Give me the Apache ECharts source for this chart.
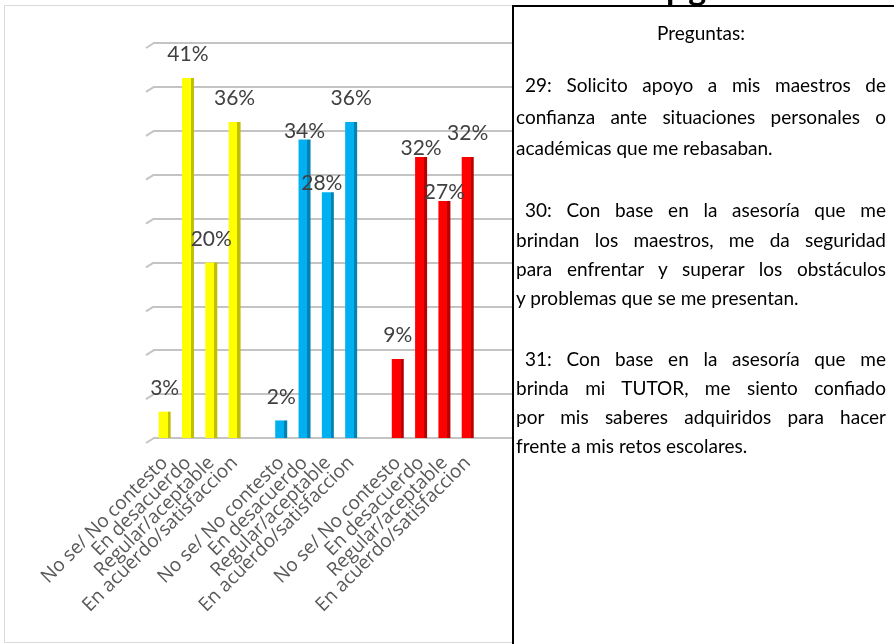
<!DOCTYPE html>
<html>
<head>
<meta charset="utf-8">
<script src="https://cdn.jsdelivr.net/npm/echarts@6/dist/echarts.min.js"></script>
<style>
body{margin:0;background:#fff;}
#wrap{position:relative;width:894px;height:644px;overflow:hidden;}
#chart{position:absolute;left:0;top:0;width:894px;height:644px;}
#ttl{position:absolute;left:666px;top:-30px;font-family:Lato;font-weight:bold;font-size:34px;line-height:34px;letter-spacing:3px;color:#000;}
#box{position:absolute;left:512px;top:5px;width:400px;height:660px;border-left:2px solid #000;border-top:2px solid #000;background:#fff;font-family:Lato;font-size:19px;color:#000;}
.ln{position:absolute;left:2px;width:370px;height:30px;line-height:30px;text-align:justify;text-align-last:justify;}
.ln.first{text-indent:9px;}
.ln.end{text-align-last:left;}
.ln.ctr{text-align:center;text-align-last:center;}
</style>
</head>
<body>
<div id="wrap">
  <div id="chart"></div>
  <div id="ttl">pg</div>
  <div id="box">
    <div class="ln ctr" style="top:11px">Preguntas:</div>
    <div class="ln first" style="top:63px">29: Solicito apoyo a mis maestros de</div>
    <div class="ln" style="top:95px">confianza ante situaciones personales o</div>
    <div class="ln end" style="top:126px">académicas que me rebasaban.</div>
    <div class="ln first" style="top:188px">30: Con base en la asesoría que me</div>
    <div class="ln" style="top:218px">brindan los maestros, me da seguridad</div>
    <div class="ln" style="top:247px">para enfrentar y superar los obstáculos</div>
    <div class="ln end" style="top:276px">y problemas que se me presentan.</div>
    <div class="ln first" style="top:337px">31: Con base en la asesoría que me</div>
    <div class="ln" style="top:366px">brinda mi TUTOR, me siento confiado</div>
    <div class="ln" style="top:395px">por mis saberes adquiridos para hacer</div>
    <div class="ln end" style="top:424px">frente a mis retos escolares.</div>
  </div>
</div>
<script>
var categories = ['No se/ No contesto', 'En desacuerdo', 'Regular/aceptable', 'En acuerdo/satisfaccion'];
var q29 = [3, 41, 20, 36];
var q30 = [2, 34, 28, 36];
var q31 = [9, 32, 27, 32];
var yTicks = [0, 5, 10, 15, 20, 25, 30, 35, 40, 45];

// labels that Excel put right on top of the bar
var closeLabels = [[], [1, 2], [1, 2]];

var groups = [q29, q30, q31];
var colors = [['#FFFF00', '#BFBF00'], ['#00B0F0', '#0083B3'], ['#FF0000', '#B80000']];

// slots: 4 + hueco + 4 + hueco + 4 + 2 vacios (debajo del cuadro)
var slots = [];
for (var g = 0; g < 3; g++) {
    for (var i = 0; i < categories.length; i++) slots.push(categories[i]);
    slots.push('');
}
slots.push('');

function barColor(c) {
    return new echarts.graphic.LinearGradient(0, 0, 1, 0, [
        {offset: 0, color: c[0]}, {offset: 0.74, color: c[0]},
        {offset: 0.74, color: c[1]}, {offset: 1, color: c[1]}
    ]);
}

var series = [];
for (var g = 0; g < 3; g++) {
    var data = [];
    for (var k = 0; k < slots.length; k++) data.push('-');
    for (var i = 0; i < groups[g].length; i++) {
        var near = closeLabels[g].indexOf(i) >= 0;
        data[g * 5 + i] = {
            value: groups[g][i],
            label: {distance: near ? -2 : 13, offset: (g == 1 && i == 2) ? [-6, 0] : [0, 0]}
        };
    }
    series.push({
        type: 'bar',
        data: data,
        barWidth: 12,
        barGap: '-100%',
        itemStyle: {color: barColor(colors[g])},
        label: {
            show: true,
            position: 'top',
            formatter: '{c}%',
            fontFamily: 'Lato',
            fontSize: 21,
            color: '#404040'
        }
    });
}

// extremo inclinado de las lineas de la cuadricula (efecto 3D)
series.push({
    type: 'custom',
    silent: true,
    data: yTicks,
    renderItem: function (params, api) {
        var p = api.coord([0, api.value(0)]);
        var x0 = params.coordSys.x;
        return {
            type: 'line',
            shape: {x1: x0 - 7, y1: p[1] + 5, x2: x0 + 1, y2: p[1]},
            style: {stroke: '#C4C4C4', lineWidth: 2}
        };
    },
    encode: {y: 0}
});

var chart = echarts.init(document.getElementById('chart'));
chart.setOption({
    animation: false,
    grid: {left: 153, top: 43, width: 373, bottom: 206, containLabel: false, outerBoundsMode: 'none'},
    xAxis: {
        type: 'category',
        data: slots,
        axisLine: {show: false},
        axisTick: {show: false},
        axisLabel: {interval: 0, rotate: 45, margin: 22, fontFamily: 'Open Sans', fontSize: 19, color: '#595959'}
    },
    yAxis: {
        type: 'value',
        min: 0,
        max: 45,
        interval: 5,
        axisLabel: {show: false},
        axisLine: {show: false},
        axisTick: {show: false},
        splitLine: {lineStyle: {color: '#C4C4C4', width: 2}}
    },
    graphic: [{
        type: 'rect',
        shape: {x: 4.5, y: 5.5, width: 520, height: 637},
        style: {fill: null, stroke: '#D9D9D9', lineWidth: 1},
        z: -1
    }],
    series: series
});
</script>
</body>
</html>
